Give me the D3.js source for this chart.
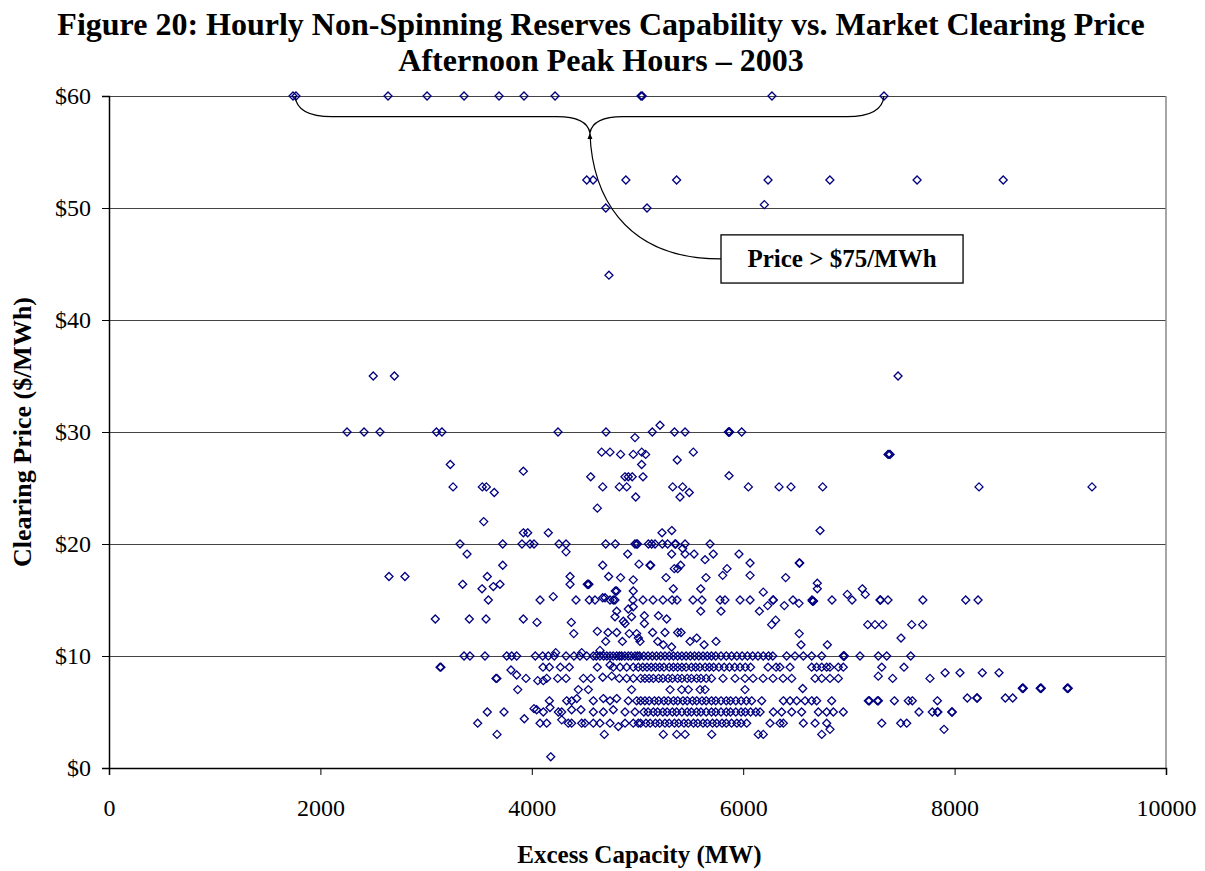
<!DOCTYPE html>
<html><head><meta charset="utf-8">
<script src="https://cdn.jsdelivr.net/npm/d3@7"></script>
<style>
html,body{margin:0;padding:0;background:#fff;}
svg text{font-family:"Liberation Serif","Times New Roman",serif;}
</style></head>
<body>
<svg id="chart" width="1205" height="871"></svg>
<script>
// ---------- DATA ----------
const titleLines = ["Figure 20: Hourly Non-Spinning Reserves Capability vs. Market Clearing Price", "Afternoon Peak Hours \u2013 2003"];
const xTicks = [0, 2000, 4000, 6000, 8000, 10000];
const yTicks = [0, 10, 20, 30, 40, 50, 60];
const calloutText = "Price > $75/MWh";

// hours with price > $75/MWh are plotted at the $60 cap
const cappedMW = [1741, 1769, 2640, 3009, 3359, 3690, 3926, 4220, 5033, 5045, 6272, 7332];

// points lying on common price levels: capacity (MW) values
const row30 = [2252, 2413, 2564, 3098, 3150, 4248, 4702, 5140, 5350, 5450, 5860, 5866, 5872, 5986];
const row20 = [3321, 3725, 3907, 3983, 4021, 4257, 4324, 4699, 4790, 4976, 4992, 5000, 5103, 5134, 5166, 5235, 5285, 5355, 5362, 5450, 5686];
const row15 = [3589, 4078, 4418, 4544, 4598, 4740, 4771, 4787, 4957, 5052, 5147, 5241, 5327, 5374, 5525, 5610, 5781, 5828, 5970, 6065, 6282, 6285, 6471, 6651, 6840, 7030, 7294, 7300, 7370, 7700, 8105, 8222];
const row10 = [3359, 3415, 3557, 3763, 3810, 3857, 4033, 4103, 4156, 4213, 4324, 4399, 4456, 4520, 4582, 4610, 4645, 4680, 4710, 4740, 4770, 4803, 4830, 4850, 4880, 4913, 4940, 4976, 5000, 5020, 5060, 5100, 5140, 5180, 5220, 5260, 5300, 5340, 5380, 5420, 5460, 5500, 5540, 5580, 5620, 5660, 5700, 5740, 5790, 5840, 5890, 5940, 5990, 6040, 6090, 6140, 6190, 6240, 6280, 6411, 6490, 6569, 6648, 6743, 6947, 6952, 6957, 7105, 7278, 7358, 7585];
const row9 = [3132, 3140, 4106, 4166, 4270, 4355, 4620, 4771, 4835, 4898, 4960, 5008, 5050, 5090, 5130, 5170, 5210, 5250, 5300, 5340, 5380, 5420, 5460, 5510, 5550, 5590, 5640, 5680, 5720, 5770, 5820, 5870, 5920, 5970, 6020, 6070, 6235, 6311, 6348, 6443, 6648, 6695, 6743, 6790, 6821, 6900, 6947, 7311, 7521];
const row8 = [3661, 3670, 3945, 4141, 4245, 4324, 4488, 4560, 4828, 4898, 4960, 5030, 5070, 5110, 5150, 5200, 5240, 5290, 5330, 5380, 5420, 5470, 5510, 5560, 5600, 5650, 5700, 5809, 5923, 6017, 6093, 6188, 6282, 6377, 6459, 6680, 6743, 6821, 6900, 7414, 7767];
const row7 = [3867, 4440, 4535, 4944, 5308, 5418, 5481, 5592, 5639, 6017];
const row6 = [4166, 4330, 4377, 4582, 4740, 4913, 4992, 5030, 5070, 5110, 5160, 5200, 5250, 5290, 5340, 5380, 5430, 5470, 5520, 5560, 5610, 5650, 5700, 5740, 5790, 5840, 5880, 5930, 5980, 6030, 6080, 6175, 6380, 6443, 6506, 6585, 6648, 6695, 6837, 7184, 7194, 7269, 7279, 7430, 7562, 7600, 7837];
const row5 = [3579, 3737, 4109, 4251, 4283, 4582, 4677, 4882, 4976, 5060, 5100, 5150, 5190, 5240, 5280, 5330, 5370, 5420, 5470, 5510, 5560, 5600, 5650, 5700, 5740, 5790, 5840, 5880, 5930, 5980, 6020, 6070, 6120, 6160, 6285, 6364, 6459, 6553, 6711, 6790, 6853, 6947, 7663, 7789, 7837, 7842, 7973, 7978];
const row4 = [3488, 4078, 4141, 4345, 4377, 4472, 4503, 4582, 4645, 4740, 4882, 4960, 5008, 5030, 5080, 5120, 5170, 5210, 5260, 5300, 5350, 5390, 5440, 5480, 5530, 5570, 5620, 5660, 5710, 5750, 5800, 5840, 5890, 5940, 5980, 6033, 6254, 6348, 6380, 6569, 6680, 6790, 7311, 7490, 7547];
const row3 = [3671, 4686, 5244, 5371, 5450, 5702, 6143, 6190, 6743];
const rowPrices = [30, 20, 15, 10, 9, 8, 7, 6, 5, 4, 3];
const rowLists = [row30, row20, row15, row10, row9, row8, row7, row6, row5, row4, row3];

// remaining individual hours: [capacity MW, price $/MWh]
const otherPoints = [
 [4520,52.5],[4580,52.5],[4890,52.5],[5370,52.5],[6235,52.5],[6820,52.5],[7645,52.5],[8460,52.5],
 [4700,50],[5090,50],[6200,50.3],[4730,44],
 [2500,35],[2700,35],[7465,35],
 [5213,30.6],[4976,29.5],
 [4661,28.2],[4740,28.2],[4840,28],[4960,28],[5040,28.2],[5077,28],[5528,28.2],[7370,28],[7380,28],[7390,28],
 [3229,27.1],[5039,27.1],[5376,27.5],
 [3920,26.5],[4557,26],[4881,26],[4913,26],[4950,26],[5052,26],[5866,26.1],
 [3255,25.1],[3532,25.1],[3570,25.1],[4671,25.1],[4828,25.1],[4898,25.1],[5333,25.1],[5427,25.1],[6049,25.1],[6339,25.1],[6452,25.1],[6752,25.1],[8231,25.1],[9300,25.1],
 [3645,24.6],[5490,24.6],[4983,24.2],[5402,24.2],[4620,23.2],[3545,22],
 [3920,21],[3961,21],[4156,21],[5232,21],[5324,21.2],[6727,21.2],
 [3387,19.1],[4324,19.3],[4907,19.1],[5323,19.1],[5427,19.6],[5450,19.1],[5535,19.1],[5717,19.1],[5960,19.1],
 [3725,18.1],[4671,18.1],[5014,18.2],[5118,18.1],[5125,18.1],[5348,17.8],[5380,17.8],[5408,18.1],[5639,18.6],[5847,17.8],[6065,18.3],[6530,18.3],[6535,18.3],
 [2649,17.1],[2800,17.1],[3579,17.1],[4362,17.1],[4727,17.1],[4840,17],[4960,16.8],[5270,17],[5648,17],[5806,17.2],[6065,17.2],[6402,17],
 [3346,16.4],[3529,16],[3636,16.2],[3699,16.4],[4362,16.4],[4525,16.4],[4530,16.4],[4535,16.4],[4540,16.4],[4790,15.8],[4803,15.8],[4960,15.8],[5598,16],[5339,16],[6701,16.5],[6701,16],[6190,15.7],[6985,15.5],[7127,16],[7155,15.5],
 [4203,15.3],[4693,15.2],[4671,15.2],
 [5598,14],[5790,14],[6153,14],[6389,14.5],[6528,14.7],[6654,14.9],[6660,14.9],[6666,14.9],[6232,14.5],[4803,14],[4913,14.2],[4960,14.4],
 [3087,13.3],[3409,13.3],[3567,13.3],[3920,13.3],[4787,13.5],[4944,13.5],[5065,13.6],[5198,13.6],[5276,13.3],
 [4049,13],[4374,13],[4866,13.1],[4882,12.9],[5065,12.9],[6269,12.8],[6307,13.2],[7178,12.8],[7247,12.8],[7320,12.8],[7594,12.8],[7698,12.8],
 [4397,12],[4620,12.2],[4721,12.1],[4803,12.1],[4922,12],[4992,12],[5143,12.1],[5260,12.1],[5380,12.1],[5412,12.1],[6530,12],[7493,11.6],
 [4699,11.3],[4857,11.3],[5008,11.6],[5497,11.3],[5560,11.6],[5024,11.3],[5191,11.3],[5244,11],[5323,10.8],[5630,11],[5743,11.3],[6547,11],[6796,11],
 [4226,10.3],[4645,10.5],[4472,10.3],
 [4740,9.2],[3803,8.75],[3857,8.3],
 [4056,7.8],[4109,7.8],[4671,8.1],[4756,8.2],[7278,8.2],
 [7910,8.5],[8051,8.5],[8262,8.5],[8420,8.5],
 [6563,7.1],[8640,7.12],[8645,7.12],[8650,7.12],[8810,7.12],[8815,7.12],[8820,7.12],[9065,7.12],[9070,7.12],[9075,7.12],
 [4425,6.2],[4677,6.2],[4803,6.2],[8120,6.25],[8210,6.25],[8215,6.25],[8480,6.25],[8550,6.25],
 [4021,5.3],[4046,5.2],[4172,5.4],[4377,5.2],[4465,5.2],[4771,5.2],
 [3929,4.4],[4283,4.3],[4819,3.7],
 [6821,3.45],[7900,3.45],[4179,1.0]
];

// ---------- CHART ----------
const svg = d3.select("#chart");
const W = 1205, H = 871;
const margin = {left: 109, right: 39, top: 96, bottom: 103};
const x = d3.scaleLinear().domain([0, 10000]).range([margin.left, W - margin.right]);
const y = d3.scaleLinear().domain([0, 60]).range([H - margin.bottom, margin.top]);

// title
svg.append("g").selectAll("text").data(titleLines).join("text")
  .attr("x", 601).attr("y", (d, i) => 35 + i * 36)
  .attr("text-anchor", "middle").attr("font-weight", "bold").attr("font-size", 32)
  .text(d => d);

// gridlines
svg.append("g").selectAll("line").data(yTicks.filter(v => v > 0)).join("line")
  .attr("x1", x(0)).attr("x2", x(10000)).attr("y1", d => y(d)).attr("y2", d => y(d))
  .attr("stroke", "#444").attr("stroke-width", 1).attr("shape-rendering", "crispEdges");
// right border
svg.append("line").attr("x1", x(10000)).attr("x2", x(10000)).attr("y1", y(0)).attr("y2", y(60))
  .attr("stroke", "#888").attr("stroke-width", 1.5);

// axes
const xAxis = svg.append("g").attr("transform", `translate(0,${y(0)})`)
  .call(d3.axisBottom(x).tickValues(xTicks).tickFormat(d3.format("d")).tickSize(7).tickPadding(24));
const yAxis = svg.append("g").attr("transform", `translate(${x(0)},0)`)
  .call(d3.axisLeft(y).tickValues(yTicks).tickFormat(d => "$" + d).tickSize(7).tickPadding(11));
[xAxis, yAxis].forEach(g => {
  g.select(".domain").attr("stroke", "#000").attr("stroke-width", 1.5);
  g.selectAll(".tick line").attr("stroke", "#000");
  g.selectAll(".tick text").attr("font-family", "Liberation Serif").attr("font-size", 24).attr("fill", "#000");
});

// axis titles
svg.append("text").attr("x", (x(0) + x(10000)) / 2 + 2).attr("y", 863)
  .attr("text-anchor", "middle").attr("font-weight", "bold").attr("font-size", 25)
  .text("Excess Capacity (MW)");
svg.append("text").attr("transform", `translate(31,${(y(0) + y(60)) / 2}) rotate(-90)`)
  .attr("text-anchor", "middle").attr("font-weight", "bold").attr("font-size", 26)
  .text("Clearing Price ($/MWh)");

// assemble points
const pts = [];
cappedMW.forEach(m => pts.push([m, 60]));
rowLists.forEach((arr, i) => arr.forEach(m => pts.push([m, rowPrices[i]])));
otherPoints.forEach(p => pts.push(p));

const diamond = {
  draw(ctx, size) {
    const r = Math.sqrt(size / 2);
    ctx.moveTo(0, -r); ctx.lineTo(r, 0); ctx.lineTo(0, r); ctx.lineTo(-r, 0); ctx.closePath();
  }
};
svg.append("g").selectAll("path").data(pts).join("path")
  .attr("transform", d => `translate(${x(d[0])},${y(d[1])})`)
  .attr("d", d3.symbol().type(diamond).size(32))
  .attr("fill", "none").attr("stroke", "#000080").attr("stroke-width", 1.3);

// callout brace
const bl = x(1760), br = x(7332), bm = x(4550);
const yTop = y(60), yH = y(58.15), yTip = y(56.7);
const brace = d3.path();
brace.moveTo(bl, yTop);
brace.quadraticCurveTo(bl + 2, yH, bl + 37, yH);
brace.lineTo(bm - 33, yH);
brace.quadraticCurveTo(bm - 3, yH, bm, yTip);
brace.quadraticCurveTo(bm + 3, yH, bm + 33, yH);
brace.lineTo(br - 37, yH);
brace.quadraticCurveTo(br - 2, yH, br, yTop);
svg.append("path").attr("d", brace.toString()).attr("fill", "none").attr("stroke", "#000").attr("stroke-width", 1.3);

// box
const boxL = x(5790), boxR = x(8080), boxT = y(47.6), boxB = y(43.3);
const leader = d3.path();
leader.moveTo(bm, yTip);
leader.bezierCurveTo(x(4570), y(51.6), x(4835), y(45.45), boxL, y(45.45));
svg.append("path").attr("d", leader.toString()).attr("fill", "none").attr("stroke", "#000").attr("stroke-width", 1.2);
svg.append("path").attr("d", `M${bm},${yTip} l-2.5,6 l5,0 z`).attr("fill", "#000");
svg.append("rect").attr("x", boxL).attr("y", boxT).attr("width", boxR - boxL).attr("height", boxB - boxT)
  .attr("fill", "#fff").attr("stroke", "#000").attr("stroke-width", 1.3);
svg.append("text").attr("x", (boxL + boxR) / 2).attr("y", (boxT + boxB) / 2 + 8)
  .attr("text-anchor", "middle").attr("font-weight", "bold").attr("font-size", 25)
  .text(calloutText);
</script>
</body></html>
